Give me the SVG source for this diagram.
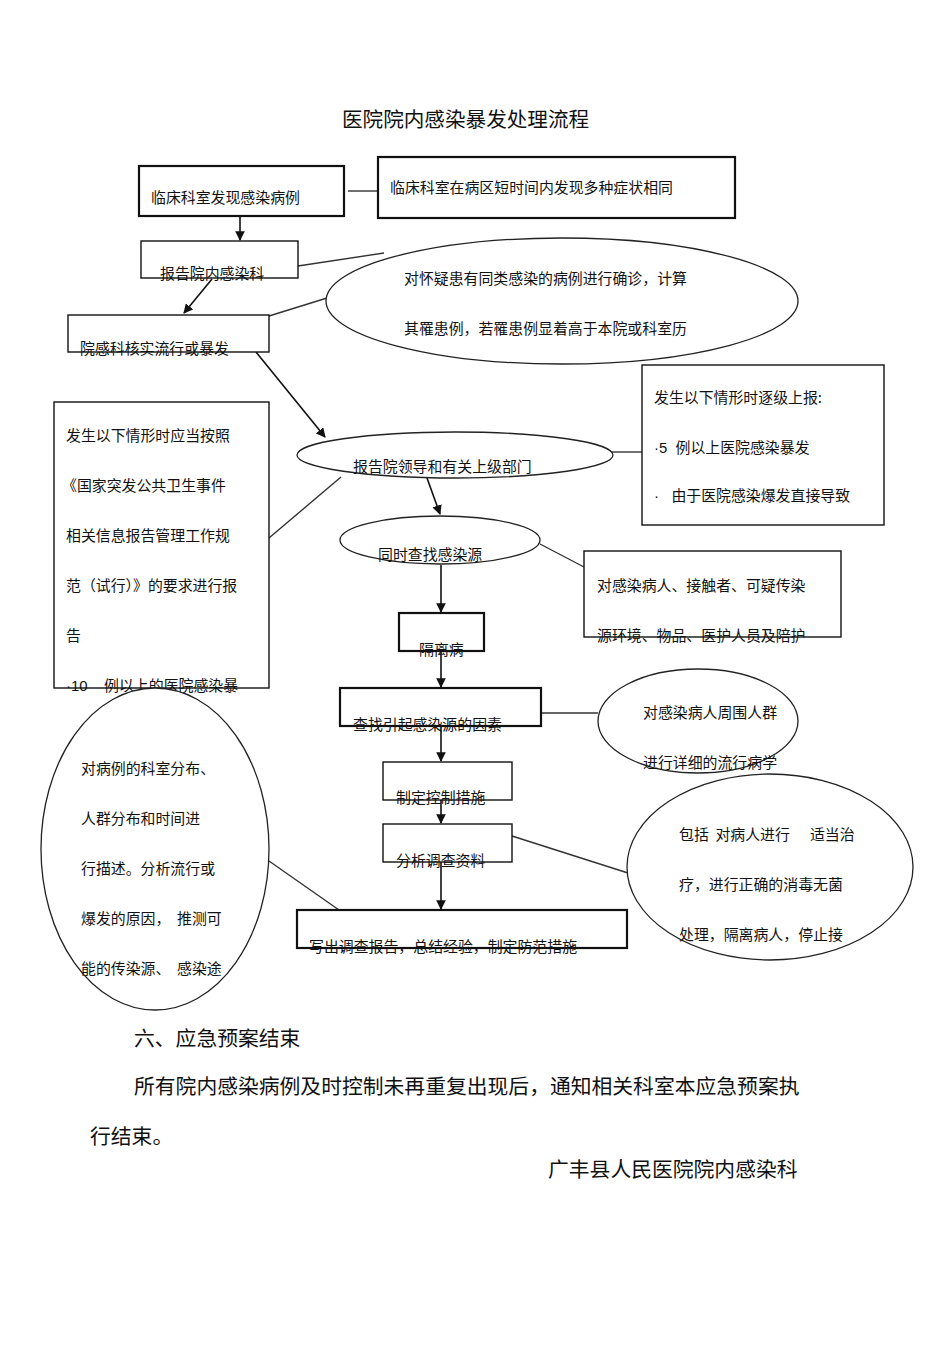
<svg xmlns="http://www.w3.org/2000/svg" width="950" height="1345" viewBox="0 0 950 1345">
<defs>
<style>
text{font-family:"Noto Sans CJK SC","Liberation Sans",sans-serif;fill:#111;white-space:pre;}
.t{font-size:14.9px;}
.big{font-size:20.8px;}
.lat{font-family:"Liberation Sans",sans-serif;}
.box{fill:#fff;stroke:#111;stroke-width:1.4;}
.bx{fill:#fff;stroke:#111;stroke-width:2.2;}
.ell{fill:#fff;stroke:#222;stroke-width:1.3;}
.ln{stroke:#333;stroke-width:1.4;fill:none;}
.ar{stroke:#111;stroke-width:1.6;fill:none;marker-end:url(#ah);}
</style>
<marker id="ah" viewBox="0 0 10 10" refX="9" refY="5" markerWidth="6" markerHeight="6" markerUnits="strokeWidth" orient="auto">
<path d="M0,0 L10,5 L0,10 z" fill="#111"/>
</marker>
</defs>
<rect width="950" height="1345" fill="#fff"/>
<text class="big" x="342" y="127" style="font-size:20.6px">医院院内感染暴发处理流程</text>

<g id="connectors">
<line class="ln" x1="348" y1="191" x2="378" y2="191"/>
<line class="ar" x1="240" y1="216" x2="240" y2="240"/>
<line class="ln" x1="298" y1="266" x2="384" y2="253"/>
<line class="ar" x1="212" y1="279" x2="184" y2="313"/>
<line class="ln" x1="269" y1="316" x2="327" y2="298"/>
<line class="ar" x1="256" y1="352" x2="325" y2="437"/>
<line class="ln" x1="612" y1="452" x2="642" y2="452"/>
<line class="ln" x1="269" y1="538" x2="341" y2="477"/>
<line class="ar" x1="427" y1="478" x2="440" y2="514"/>
<line class="ln" x1="540" y1="544" x2="584" y2="567"/>
<line class="ar" x1="441" y1="565" x2="441" y2="612"/>
<line class="ar" x1="441" y1="651" x2="441" y2="687"/>
<line class="ln" x1="541" y1="713" x2="598" y2="713"/>
<line class="ar" x1="441" y1="726" x2="441" y2="761"/>
<line class="ar" x1="441" y1="800" x2="441" y2="823"/>
<line class="ln" x1="512" y1="836" x2="628" y2="873"/>
<line class="ar" x1="441" y1="862" x2="441" y2="909"/>
<line class="ln" x1="269" y1="861" x2="339" y2="910"/>
</g>

<g id="n1"><rect class="bx" x="139" y="166" width="205" height="50"/><text class="t" x="151" y="203">临床科室发现感染病例</text></g>
<g id="n2"><rect class="bx" x="378" y="157" width="357" height="61"/><text class="t" x="390" y="193">临床科室在病区短时间内发现多种症状相同</text></g>
<g id="n3"><rect class="box" x="141" y="241" width="157" height="37"/><text class="t" x="160" y="279">报告院内感染科</text></g>
<g id="n4"><ellipse class="ell" cx="562" cy="301" rx="236" ry="63"/><text class="t" x="404" y="284">对怀疑患有同类感染的病例进行确诊，计算</text><text class="t" x="404" y="334">其罹患例，若罹患例显着高于本院或科室历</text></g>
<g id="n5"><rect class="box" x="68" y="315" width="201" height="37"/><text class="t" x="80" y="354">院感科核实流行或暴发</text></g>
<g id="n6"><ellipse class="ell" cx="455" cy="455" rx="158" ry="23"/><text class="t" x="353" y="472">报告院领导和有关上级部门</text></g>
<g id="n7"><rect class="box" x="642" y="365" width="242" height="160"/><text class="t" x="654" y="403">发生以下情形时逐级上报:</text><text class="t" x="654" y="453"><tspan class="lat">·5  </tspan>例以上医院感染暴发</text><text class="t" x="654" y="501"><tspan class="lat">·   </tspan>由于医院感染爆发直接导致</text></g>
<g id="n8"><rect class="box" x="54" y="402" width="215" height="286"/><text class="t" x="66" y="441">发生以下情形时应当按照</text><text class="t" x="62" y="491">《国家突发公共卫生事件</text><text class="t" x="66" y="541">相关信息报告管理工作规</text><text class="t" x="66" y="591">范（试行）》的要求进行报</text><text class="t" x="66" y="641">告</text><text class="t" x="66" y="691"><tspan class="lat">·10    </tspan>例以上的医院感染暴</text></g>
<g id="n9"><ellipse class="ell" cx="440" cy="540" rx="100" ry="24"/><text class="t" x="378" y="560">同时查找感染源</text></g>
<g id="n10"><rect class="box" x="584" y="551" width="257" height="86"/><text class="t" x="597" y="591">对感染病人、接触者、可疑传染</text><text class="t" x="597" y="641">源环境、物品、医护人员及陪护</text></g>
<g id="n11"><rect class="bx" x="399" y="613" width="85" height="38"/><text class="t" x="419" y="655">隔离病</text></g>
<g id="n12"><rect class="bx" x="340" y="688" width="201" height="38"/><text class="t" x="353" y="730">查找引起感染源的因素</text></g>
<g id="n13"><ellipse class="ell" cx="698" cy="721" rx="100" ry="52"/><text class="t" x="643" y="718">对感染病人周围人群</text><text class="t" x="643" y="768">进行详细的流行病学</text></g>
<g id="n14"><rect class="box" x="383" y="762" width="129" height="38"/><text class="t" x="396" y="803">制定控制措施</text></g>
<g id="n15"><rect class="box" x="383" y="824" width="129" height="38"/><text class="t" x="396" y="866">分析调查资料</text></g>
<g id="n16"><ellipse class="ell" cx="770" cy="867" rx="143" ry="93"/><text class="t" x="679" y="840">包括  对病人进行      适当治</text><text class="t" x="679" y="890">疗，进行正确的消毒无菌</text><text class="t" x="679" y="940">处理，隔离病人，停止接</text></g>
<g id="n17"><rect class="bx" x="297" y="910" width="330" height="38"/><text class="t" x="309" y="952">写出调查报告，总结经验，制定防范措施</text></g>
<g id="n18"><ellipse class="ell" cx="155" cy="849" rx="114" ry="161"/><text class="t" x="81" y="774">对病例的科室分布、</text><text class="t" x="81" y="824">人群分布和时间进</text><text class="t" x="81" y="874">行描述。分析流行或</text><text class="t" x="81" y="924">爆发的原因，  推测可</text><text class="t" x="81" y="974">能的传染源、  感染途</text></g>

<text class="big" x="134" y="1046">六、应急预案结束</text>
<text class="big" x="134" y="1094">所有院内感染病例及时控制未再重复出现后，通知相关科室本应急预案执</text>
<text class="big" x="90" y="1144">行结束。</text>
<text class="big" x="548" y="1177">广丰县人民医院院内感染科</text>
</svg>
